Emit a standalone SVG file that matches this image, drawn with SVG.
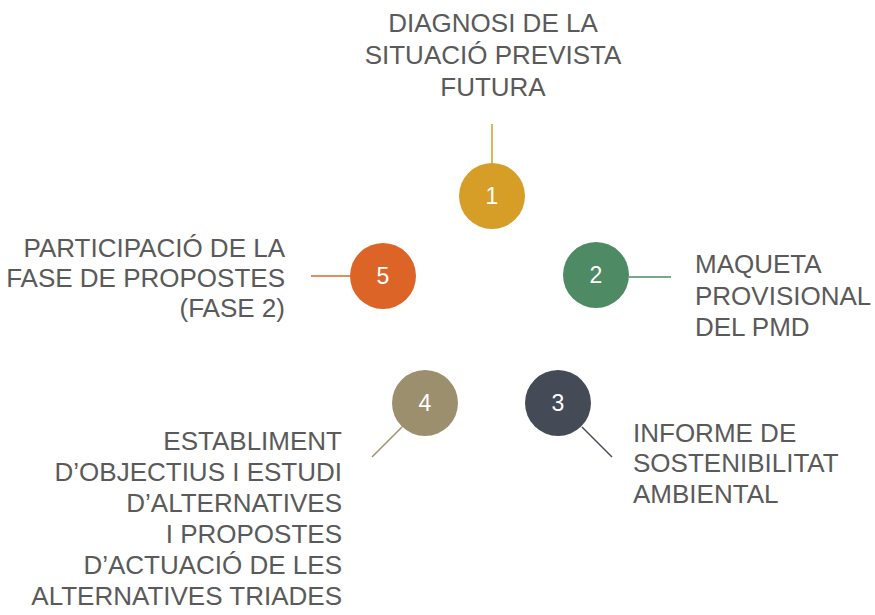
<svg xmlns="http://www.w3.org/2000/svg" width="875" height="615" viewBox="0 0 875 615">
<style>
.lbl{font-family:"Liberation Sans",Arial,sans-serif;font-size:26px;fill:#5a5a5a}
.num{font-family:"Liberation Sans",Arial,sans-serif;font-size:23px;fill:#ffffff;text-anchor:middle}
.con{stroke-width:1.5;fill:none}
</style>
<rect width="875" height="615" fill="#ffffff"/>
<g id="connectors">
<line class="con" x1="492" y1="124" x2="492" y2="164" stroke="#D69D27"/>
<line class="con" x1="629" y1="277" x2="671" y2="277" stroke="#4E8A63"/>
<line class="con" x1="582" y1="427" x2="612" y2="457" stroke="#454A57"/>
<line class="con" x1="402" y1="427" x2="372" y2="457" stroke="#9C8F6E"/>
<line class="con" x1="311" y1="276" x2="350" y2="276" stroke="#DD6427"/>
</g>
<g id="node1">
<circle cx="492" cy="196" r="33" fill="#D69D27"/>
<text class="num" x="492" y="204">1</text>
<text class="lbl" text-anchor="middle" x="493" y="32">DIAGNOSI DE LA</text>
<text class="lbl" text-anchor="middle" x="493" y="64">SITUACIÓ PREVISTA</text>
<text class="lbl" text-anchor="middle" x="493" y="96">FUTURA</text>
</g>
<g id="node2">
<circle cx="596" cy="275" r="33" fill="#4E8A63"/>
<text class="num" x="596" y="283">2</text>
<text class="lbl" x="695" y="273">MAQUETA</text>
<text class="lbl" x="695" y="305">PROVISIONAL</text>
<text class="lbl" x="695" y="336">DEL PMD</text>
</g>
<g id="node3">
<circle cx="558" cy="403" r="33" fill="#454A57"/>
<text class="num" x="558" y="411">3</text>
<text class="lbl" x="633" y="442">INFORME DE</text>
<text class="lbl" x="633" y="472">SOSTENIBILITAT</text>
<text class="lbl" x="633" y="503">AMBIENTAL</text>
</g>
<g id="node4">
<circle cx="425" cy="403" r="33" fill="#9C8F6E"/>
<text class="num" x="425" y="411">4</text>
<text class="lbl" text-anchor="end" x="342" y="450">ESTABLIMENT</text>
<text class="lbl" text-anchor="end" x="342" y="481">D’OBJECTIUS I ESTUDI</text>
<text class="lbl" text-anchor="end" x="342" y="512">D’ALTERNATIVES</text>
<text class="lbl" text-anchor="end" x="342" y="543">I PROPOSTES</text>
<text class="lbl" text-anchor="end" x="342" y="574">D’ACTUACIÓ DE LES</text>
<text class="lbl" text-anchor="end" x="342" y="605">ALTERNATIVES TRIADES</text>
</g>
<g id="node5">
<circle cx="383" cy="276" r="33" fill="#DD6427"/>
<text class="num" x="383" y="284">5</text>
<text class="lbl" text-anchor="end" x="285" y="257">PARTICIPACIÓ DE LA</text>
<text class="lbl" text-anchor="end" x="285" y="287">FASE DE PROPOSTES</text>
<text class="lbl" text-anchor="end" x="285" y="317">(FASE 2)</text>
</g>
</svg>
